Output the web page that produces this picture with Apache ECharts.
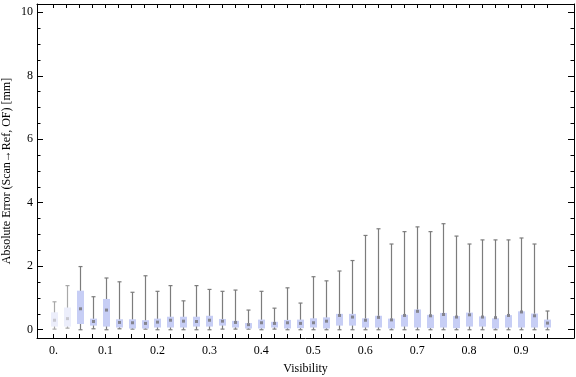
<!DOCTYPE html>
<html>
<head>
<meta charset="utf-8">
<script src="https://cdn.jsdelivr.net/npm/echarts@6/dist/echarts.min.js"></script>
<style>
  html, body { margin: 0; padding: 0; background: #fff; }
  #chart { width: 576px; height: 377px; }
</style>
</head>
<body>
<div id="chart"></div>
<script>
// box positions on the visibility axis
const visibility = [0, 0.025, 0.05, 0.075, 0.1, 0.125, 0.15, 0.175, 0.2, 0.225,
  0.25, 0.275, 0.3, 0.325, 0.35, 0.375, 0.4, 0.425, 0.45, 0.475,
  0.5, 0.525, 0.55, 0.575, 0.6, 0.625, 0.65, 0.675, 0.7, 0.725,
  0.75, 0.775, 0.8, 0.825, 0.85, 0.875, 0.9, 0.925, 0.95];

const whiskerLow = [0.02, 0.05, 0, 0.03, 0, 0.03, 0.02, 0.02, 0, 0,
  0, 0, 0, 0.02, 0.02, 0.02, 0, 0.02, 0, 0,
  0, 0, 0, 0, 0, 0, 0, 0, 0, 0,
  0, 0, 0, 0, 0, 0, 0, 0, 0];
const q1 = [0.1, 0.1, 0.18, 0.13, 0.1, 0.07, 0.04, 0.04, 0.07, 0.07,
  0.07, 0.1, 0.1, 0.13, 0.07, 0.04, 0.04, 0.07, 0.04, 0.05,
  0.07, 0.04, 0.13, 0.13, 0.07, 0.07, 0.04, 0.1, 0.07, 0.05,
  0.07, 0.05, 0.1, 0.1, 0.04, 0.07, 0.07, 0.07, 0.07];
const median = [0.3, 0.35, 0.66, 0.26, 0.62, 0.23, 0.22, 0.2, 0.24, 0.3,
  0.27, 0.26, 0.3, 0.27, 0.23, 0.16, 0.22, 0.2, 0.22, 0.2,
  0.22, 0.27, 0.45, 0.4, 0.3, 0.39, 0.31, 0.45, 0.58, 0.44,
  0.48, 0.4, 0.47, 0.4, 0.38, 0.45, 0.56, 0.44, 0.21];
const q3 = [0.55, 0.7, 1.23, 0.35, 0.97, 0.33, 0.33, 0.3, 0.35, 0.41,
  0.41, 0.41, 0.44, 0.34, 0.28, 0.21, 0.32, 0.25, 0.31, 0.32,
  0.36, 0.39, 0.5, 0.5, 0.36, 0.44, 0.35, 0.47, 0.64, 0.47,
  0.53, 0.43, 0.54, 0.42, 0.36, 0.46, 0.58, 0.51, 0.32];
const whiskerHigh = [0.88, 1.39, 1.99, 1.04, 1.63, 1.51, 1.18, 1.7, 1.21, 1.39,
  0.91, 1.39, 1.27, 1.21, 1.25, 0.62, 1.21, 0.68, 1.32, 0.84,
  1.67, 1.54, 1.85, 2.18, 2.97, 3.18, 2.7, 3.09, 3.24, 3.09,
  3.34, 2.95, 2.7, 2.83, 2.83, 2.83, 2.89, 2.7, 0.59];

// tick positions
const xLabelTicks = [0, 0.1, 0.2, 0.3, 0.4, 0.5, 0.6, 0.7, 0.8, 0.9];
const yMajorTicks = [0, 2, 4, 6, 8, 10];
const yMinorTicks = [0.5, 1, 1.5, 2.5, 3, 3.5, 4.5, 5, 5.5, 6.5, 7, 7.5, 8.5, 9, 9.5];

const rows = visibility.map((v, i) => [v, whiskerLow[i], q1[i], median[i], q3[i], whiskerHigh[i]]);

const chart = echarts.init(document.getElementById('chart'));
const font = 'Liberation Serif';
const yMin = -0.26, yMax = 10.26;
const xMin = -0.032, xMax = 1.002;

const baseX = {
  type: 'value', min: xMin, max: xMax,
  axisLine: { show: true, onZero: false, lineStyle: { color: '#000', width: 1 } },
  splitLine: { show: false }
};
const baseY = {
  type: 'value', min: yMin, max: yMax,
  splitLine: { show: false }
};

const renderBox = (params, api) => {
  const x = api.value(0);
  const pLo = api.coord([x, api.value(1)]);
  const pQ1 = api.coord([x, api.value(2)]);
  const pMd = api.coord([x, api.value(3)]);
  const pQ3 = api.coord([x, api.value(4)]);
  const pHi = api.coord([x, api.value(5)]);
  const bw = 7, cw = 4;
  const cx = Math.round(pLo[0]) + 0.5;
  const pale = params.dataIndex < 2;
  const wStyle = { stroke: pale ? '#a8a8a8' : '#7c7c7c', lineWidth: 1.2 };
  return {
    type: 'group',
    children: [
      { type: 'line', shape: { x1: cx, y1: pHi[1], x2: cx, y2: pLo[1] }, style: wStyle },
      { type: 'line', shape: { x1: cx - cw / 2, y1: pHi[1], x2: cx + cw / 2, y2: pHi[1] }, style: wStyle },
      { type: 'line', shape: { x1: cx - cw / 2, y1: pLo[1], x2: cx + cw / 2, y2: pLo[1] }, style: wStyle },
      {
        type: 'rect',
        shape: { x: cx - bw / 2, y: pQ3[1], width: bw, height: pQ1[1] - pQ3[1] },
        style: { fill: pale ? '#eceefb' : '#c7cef5' }
      },
      {
        type: 'rect',
        shape: { x: cx - 1.5, y: pMd[1] - 1.5, width: 3, height: 3 },
        style: { fill: pale ? '#c8c8d0' : '#85858f' }
      }
    ]
  };
};

const option = {
  animation: false,
  backgroundColor: '#fff',
  grid: { left: 37, right: 2, top: 4, bottom: 39, containLabel: false, outerBoundsMode: 'none' },
  xAxis: [
    Object.assign({}, baseX, {
      position: 'bottom',
      name: 'Visibility',
      nameLocation: 'middle',
      nameGap: 25,
      nameMoveOverlap: false,
      nameTextStyle: { fontFamily: font, fontSize: 12, color: '#000' },
      axisTick: { show: true, inside: true, length: 4, customValues: visibility, lineStyle: { color: '#000' } },
      axisLabel: {
        show: true, customValues: xLabelTicks, margin: 7,
        fontFamily: font, fontSize: 12, color: '#000',
        formatter: v => (v === 0 ? '0.' : String(+v.toFixed(1)))
      }
    }),
    Object.assign({}, baseX, {
      position: 'top',
      axisTick: { show: true, inside: true, length: 4, customValues: visibility, lineStyle: { color: '#000' } },
      axisLabel: { show: false }
    })
  ],
  yAxis: [
    Object.assign({}, baseY, {
      position: 'left',
      name: 'Absolute Error (Scan\u2192Ref, OF) [mm]',
      nameLocation: 'middle',
      nameGap: 24,
      nameMoveOverlap: false,
      nameTextStyle: { fontFamily: font, fontSize: 12, color: '#000' },
      axisLine: { show: true, onZero: false, lineStyle: { color: '#000', width: 1 } },
      axisTick: { show: true, inside: true, length: 6, customValues: yMajorTicks, lineStyle: { color: '#000' } },
      axisLabel: { show: true, customValues: yMajorTicks, margin: 4, fontFamily: font, fontSize: 12, color: '#000' }
    }),
    Object.assign({}, baseY, {
      position: 'left',
      axisLine: { show: false, onZero: false },
      axisTick: { show: true, inside: true, length: 3.5, customValues: yMinorTicks, lineStyle: { color: '#000' } },
      axisLabel: { show: false }
    }),
    Object.assign({}, baseY, {
      position: 'right',
      axisLine: { show: true, onZero: false, lineStyle: { color: '#000', width: 1 } },
      axisTick: { show: true, inside: true, length: 6, customValues: yMajorTicks, lineStyle: { color: '#000' } },
      axisLabel: { show: false }
    }),
    Object.assign({}, baseY, {
      position: 'right',
      axisLine: { show: false, onZero: false },
      axisTick: { show: true, inside: true, length: 3.5, customValues: yMinorTicks, lineStyle: { color: '#000' } },
      axisLabel: { show: false }
    })
  ],
  series: [
    {
      type: 'custom',
      xAxisIndex: 0,
      yAxisIndex: 0,
      data: rows,
      encode: { x: 0, y: [1, 2, 3, 4, 5] },
      renderItem: renderBox,
      silent: true
    }
  ]
};

chart.setOption(option);
</script>
</body>
</html>
